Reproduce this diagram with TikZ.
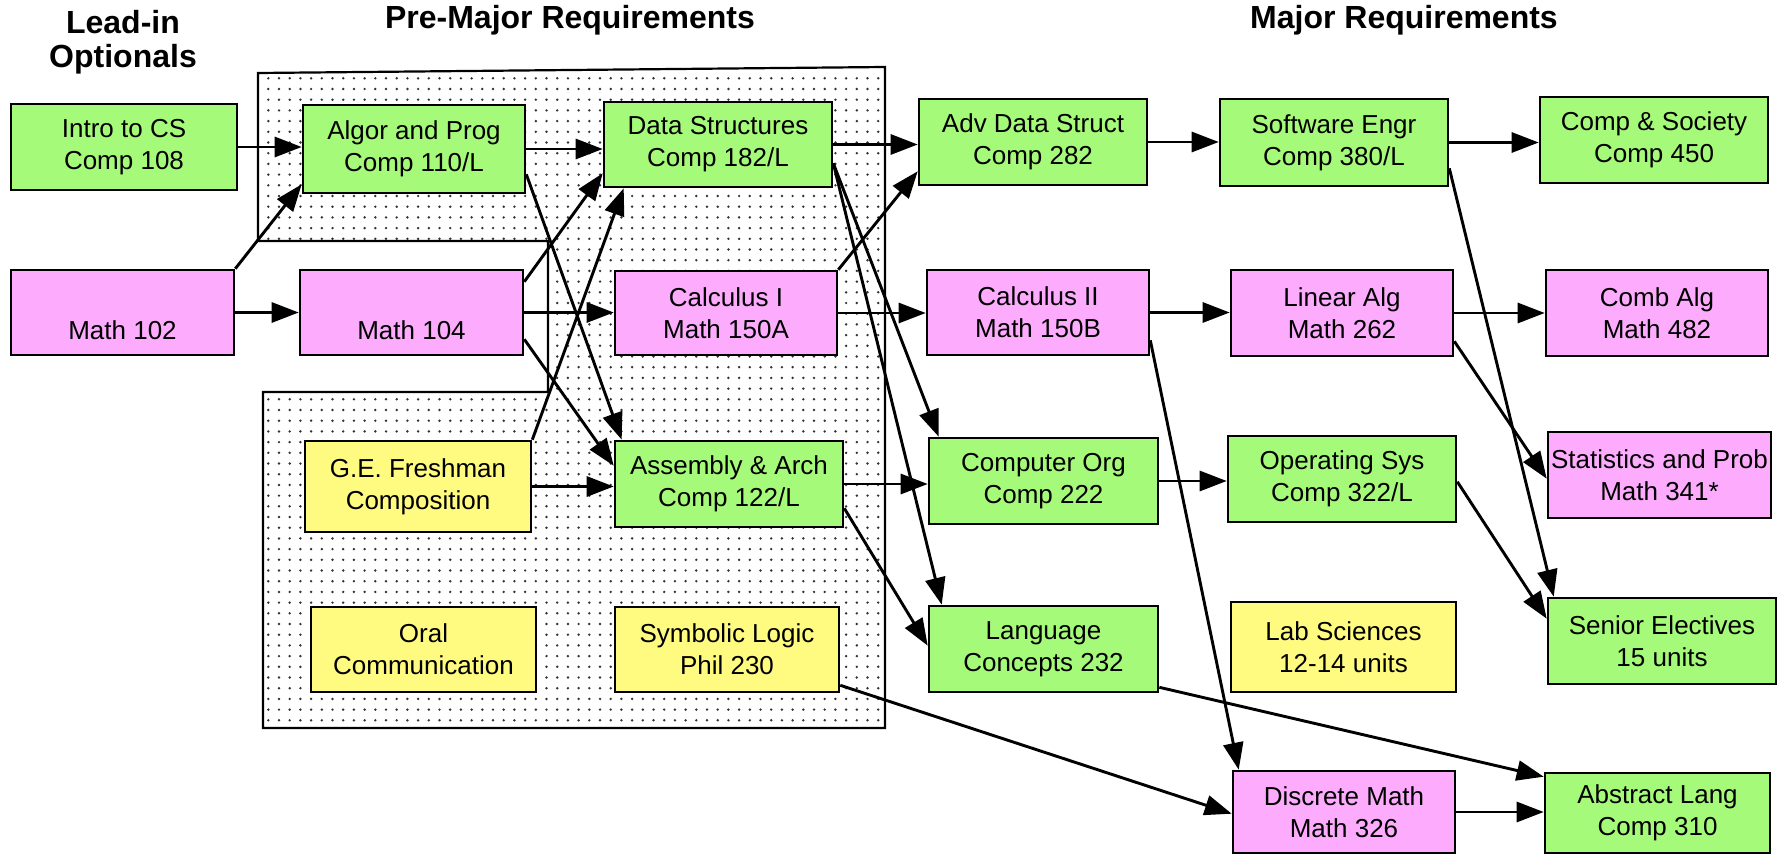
\documentclass[tikz,border=0pt]{standalone}
\usepackage{fontspec}
\setmainfont{Liberation Sans}
\usetikzlibrary{arrows.meta}
\pgfdeclarelayer{bg}
\pgfdeclarelayer{edges}
\pgfsetlayers{bg,edges,main}
\definecolor{cgreen}{RGB}{166,250,122}
\definecolor{cpink}{RGB}{253,172,253}
\definecolor{cyellow}{RGB}{255,251,128}
\begin{document}
\begin{tikzpicture}[x=1pt,y=-1pt,
 box/.style={draw=black, line width=2.6pt, align=center, inner sep=0pt, font=\fontsize{26}{32}\selectfont},
 gbox/.style={box, fill=cgreen},
 pbox/.style={box, fill=cpink},
 ybox/.style={box, fill=cyellow},
 sz/.style 2 args={minimum width=#1pt, minimum height=#2pt},
 title/.style={font=\fontsize{32}{34}\selectfont\bfseries, align=center},
 arr/.style={line width=2.9pt, -{Triangle[length=27pt,width=20pt]}},
 region/.style={draw=black, line width=2.2pt}
]
\useasboundingbox (0,0) rectangle (1779,856);

% titles
\node[title] (t1) at (123,42) {Lead-in\\Optionals};
\node[title] (t2) at (570,20) {Pre-Major Requirements};
\node[title] (t3) at (1404,20) {Major Requirements};

% nodes
\node[gbox, sz={226}{86}] (intro) at (124,147) {Intro to CS\\Comp 108};
\node[gbox, sz={222}{88}] (algor) at (414,149) {Algor and Prog\\Comp 110/L};
\node[gbox, sz={228}{85}] (ds) at (718,144.5) {Data Structures\\Comp 182/L};
\node[gbox, sz={228}{86}] (adv) at (1033,142) {Adv Data Struct\\Comp 282};
\node[gbox, sz={228}{87}] (sw) at (1334,142.5) {Software Engr\\Comp 380/L};
\node[gbox, sz={228}{86}] (soc) at (1654,140) {Comp \& Society\\Comp 450};

\node[pbox, sz={223}{85}] (m102) at (122.5,312.5) {\strut\\Math 102};
\node[pbox, sz={223}{85}] (m104) at (411.5,312.5) {\strut\\Math 104};
\node[pbox, sz={222}{84}] (calc1) at (726,313) {Calculus I\\Math 150A};
\node[pbox, sz={222}{85}] (calc2) at (1038,312.5) {Calculus II\\Math 150B};
\node[pbox, sz={222}{86}] (lin) at (1342,313) {Linear Alg\\Math 262};
\node[pbox, sz={222}{86}] (comb) at (1657,313) {Comb Alg\\Math 482};

\node[ybox, sz={226}{91}] (ge) at (418,486.5) {G.E. Freshman\\Composition};
\node[gbox, sz={228}{86}] (asm) at (729,484) {Assembly \& Arch\\Comp 122/L};
\node[gbox, sz={229}{86}] (org) at (1043.5,481) {Computer Org\\Comp 222};
\node[gbox, sz={228}{86}] (os) at (1342,479) {Operating Sys\\Comp 322/L};
\node[pbox, sz={223}{86}] (stat) at (1659.5,475) {Statistics and Prob\\Math 341*};

\node[ybox, sz={225}{85}] (oral) at (423.5,649.5) {Oral\\Communication};
\node[ybox, sz={224}{85}] (sym) at (727,649.5) {Symbolic Logic\\Phil 230};
\node[gbox, sz={229}{86}] (lang) at (1043.5,649) {Language\\Concepts 232};
\node[ybox, sz={225}{90}] (lab) at (1343.5,647) {Lab Sciences\\12-14 units};
\node[gbox, sz={228}{86}] (sen) at (1662,641) {Senior Electives\\15 units};

\node[pbox, sz={222}{82}] (disc) at (1344,812) {Discrete Math\\Math 326};
\node[gbox, sz={225}{80}] (abs) at (1657.5,813) {Abstract Lang\\Comp 310};

% dotted region
\begin{pgfonlayer}{bg}
\begin{scope}
\clip (258,73) -- (885,67) -- (885,728) -- (263,728) -- (263,392) -- (548,392) -- (548,241) -- (258,241) -- cycle;
\foreach \i in {0,...,58} {
  \foreach \j in {0,...,61} {
    \fill[black!80] (268.3+10.7*\i, 78.3+10.7*\j) circle (1.35pt);
  }
}
\end{scope}
\draw[region] (258,73) -- (885,67) -- (885,728) -- (263,728) -- (263,392) -- (548,392) -- (548,241) -- (258,241) -- cycle;
\end{pgfonlayer}

% connectors
\begin{pgfonlayer}{edges}
\draw[arr] (intro.east) -- (intro.east -| algor.west);
\draw[arr] (m102.north east) -- ([yshift=10pt]algor.south west);
\draw[arr] (m102.east) -- (m102.east -| m104.west);
\draw[arr] (algor.east) -- (algor.east -| ds.west);
\draw[arr] ([yshift=-13pt]m104.north east) -- ([yshift=15pt]ds.south west);
\draw[arr] (m104.east) -- (m104.east -| calc1.west);
\draw[arr] ([yshift=20pt]algor.south east) -- ([xshift=8pt]asm.north west);
\draw[arr] ([yshift=17pt]m104.south east) -- ([yshift=-26pt]asm.north west);
\draw[arr] (ge.north east) -- ([xshift=21pt]ds.south west);
\draw[arr] (ge.east) -- (ge.east -| asm.west);
\draw[arr] (ds.east) -- (ds.east -| adv.west);
\draw[arr] (calc1.north east) -- ([yshift=15pt]adv.south west);
\draw[arr] (calc1.east) -- (calc1.east -| calc2.west);
\draw[arr] ([yshift=25pt]ds.south east) -- ([xshift=11pt]org.north west);
\draw[arr] ([yshift=25pt]ds.south east) -- ([xshift=14pt]lang.north west);
\draw[arr] (asm.east) -- (asm.east -| org.west);
\draw[arr] ([yshift=20pt]asm.south east) -- ([yshift=-41pt]lang.north west);
\draw[arr] (adv.east) -- (adv.east -| sw.west);
\draw[arr] (sw.east) -- (sw.east -| soc.west);
\draw[arr] ([yshift=19pt]sw.south east) -- ([xshift=7pt]sen.north west);
\draw[arr] (calc2.east) -- (calc2.east -| lin.west);
\draw[arr] (lin.east) -- (lin.east -| comb.west);
\draw[arr] ([yshift=16pt]lin.south east) -- ([yshift=-48pt]stat.north west);
\draw[arr] (org.east) -- (org.east -| os.west);
\draw[arr] ([yshift=-47pt]os.north east) -- ([yshift=-22pt]sen.north west);
\draw[arr] ([yshift=16pt]calc2.south east) -- ([xshift=7pt]disc.north west);
\draw[arr] ([yshift=8pt]sym.south east) -- ([yshift=-44pt]disc.north west);
\draw[arr] ([yshift=6pt]lang.south east) -- ([yshift=-5pt]abs.north west);
\draw[arr] (disc.east) -- (disc.east -| abs.west);
\end{pgfonlayer}
\end{tikzpicture}
\end{document}
